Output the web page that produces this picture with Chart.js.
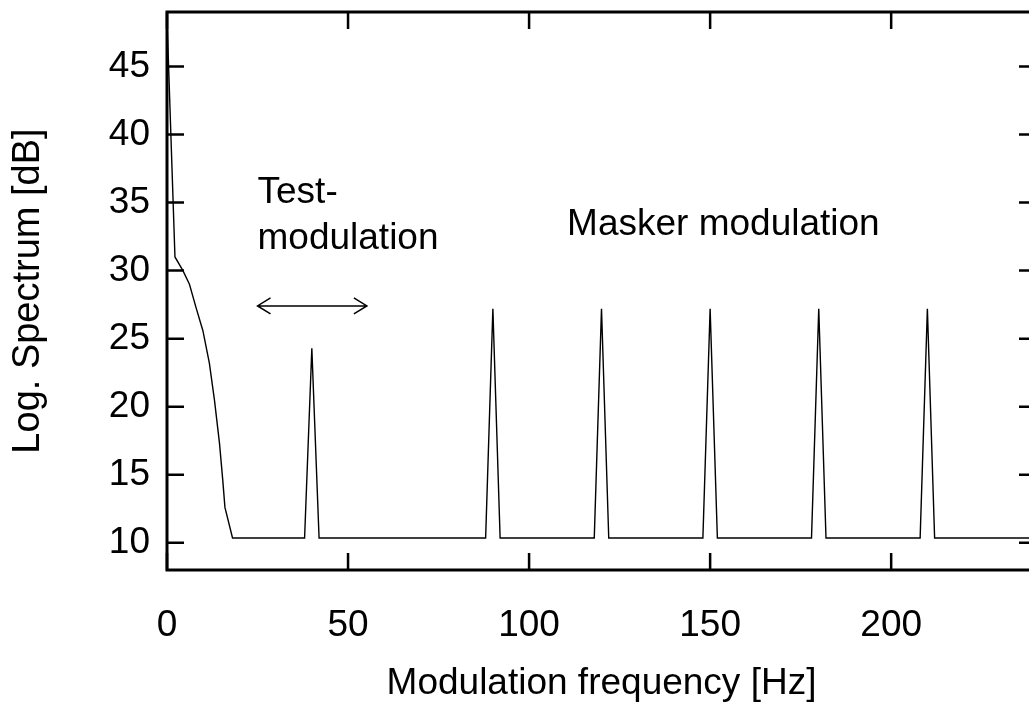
<!DOCTYPE html>
<html>
<head>
<meta charset="utf-8">
<script src="https://cdn.jsdelivr.net/npm/chart.js@4/dist/chart.umd.min.js"></script>
<style>
  html, body { margin: 0; padding: 0; background: #fff; overflow: hidden; }
  #c { display: block; }
</style>
</head>
<body>
<canvas id="c" width="1045" height="704" style="width:1045px;height:704px"></canvas>
<script>
// ─── Data ───────────────────────────────────────────────────────────────────
const freqHz = [0, 2.2, 4.4, 6.2, 8, 9.9, 11.7, 13.1, 14.5, 15.4, 16, 18.1,
                38, 40, 42, 88, 90, 92, 118, 120, 122, 148, 150, 152,
                178, 180, 182, 208, 210, 212, 240];
const levelDb = [48.5, 31.0, 30.0, 29.0, 27.3, 25.6, 23.2, 20.5, 17.3, 14.6, 12.6, 10.35,
                 10.35, 24.3, 10.35, 10.35, 27.2, 10.35, 10.35, 27.2, 10.35, 10.35, 27.2, 10.35,
                 10.35, 27.2, 10.35, 10.35, 27.2, 10.35, 10.35];

const xTicks = [0, 50, 100, 150, 200];
const yTicks = [10, 15, 20, 25, 30, 35, 40, 45];

const xTitle = 'Modulation frequency [Hz]';
const yTitle = 'Log. Spectrum [dB]';

// annotation texts: [text, freq, level(baseline)]
const notes = [
  ['Test-', 25, 35.0],
  ['modulation', 25, 31.55],
  ['Masker modulation', 110.5, 32.6],
];
const arrowSpan = [25, 55.2, 27.4];   // from, to, level

const FONT = 'Liberation Sans, Arial, Helvetica, sans-serif';
const FSIZE = 37;
const TICK = 17;

// ─── Frame, inward ticks, arrow and labels ──────────────────────────────────
const gnuFrame = {
  id: 'gnuFrame',
  afterDraw(chart) {
    const { ctx, chartArea: a, scales: { x, y } } = chart;
    ctx.save();
    ctx.strokeStyle = '#000';
    ctx.lineWidth = 2.5;
    ctx.beginPath();
    xTicks.forEach(v => {
      const px = x.getPixelForValue(v);
      ctx.moveTo(px, a.bottom); ctx.lineTo(px, a.bottom - TICK);
      ctx.moveTo(px, a.top);    ctx.lineTo(px, a.top + TICK);
    });
    yTicks.forEach(v => {
      const py = y.getPixelForValue(v);
      ctx.moveTo(a.left, py);  ctx.lineTo(a.left + TICK, py);
      ctx.moveTo(a.right, py); ctx.lineTo(a.right - TICK, py);
    });
    ctx.stroke();

    ctx.lineWidth = 3;
    ctx.strokeRect(a.left, a.top, a.right - a.left, a.bottom - a.top);

    // double arrow
    const x0 = x.getPixelForValue(arrowSpan[0]);
    const x1 = x.getPixelForValue(arrowSpan[1]);
    const ay = y.getPixelForValue(arrowSpan[2]);
    ctx.lineWidth = 1.5;
    ctx.beginPath();
    ctx.moveTo(x0, ay); ctx.lineTo(x1, ay);
    ctx.moveTo(x0 + 13, ay - 8); ctx.lineTo(x0, ay); ctx.lineTo(x0 + 13, ay + 8);
    ctx.moveTo(x1 - 13, ay - 8); ctx.lineTo(x1, ay); ctx.lineTo(x1 - 13, ay + 8);
    ctx.stroke();

    ctx.fillStyle = '#000';
    ctx.font = FSIZE + 'px ' + FONT;
    ctx.textAlign = 'left';
    ctx.textBaseline = 'alphabetic';
    notes.forEach(([t, f, v]) => ctx.fillText(t, x.getPixelForValue(f), y.getPixelForValue(v)));
    ctx.restore();
  }
};

new Chart(document.getElementById('c'), {
  type: 'line',
  data: {
    datasets: [{
      data: freqHz.map((f, i) => ({ x: f, y: levelDb[i] })),
      borderColor: '#000',
      borderWidth: 1.4,
      pointRadius: 0,
      tension: 0,
      fill: false,
    }]
  },
  options: {
    responsive: false,
    animation: false,
    devicePixelRatio: 1,
    layout: { padding: { top: 12, right: 9, left: 0, bottom: 0 } },
    plugins: { legend: { display: false }, tooltip: { enabled: false } },
    scales: {
      x: {
        type: 'linear', min: 0, max: 240,
        afterBuildTicks: s => { s.ticks = xTicks.map(v => ({ value: v })); },
        afterFit: s => { s.height = 134; s.paddingLeft = 0; s.paddingRight = 0; },
        grid: { display: false, drawTicks: false },
        border: { display: false },
        ticks: { color: '#000', font: { family: FONT, size: FSIZE }, padding: 34, maxRotation: 0 },
        title: { display: true, text: xTitle, color: '#000', font: { family: FONT, size: FSIZE, lineHeight: 1.1 }, padding: { top: 0, bottom: 0 } },
      },
      y: {
        type: 'linear', min: 8, max: 49,
        afterBuildTicks: s => { s.ticks = yTicks.map(v => ({ value: v })); },
        afterFit: s => { s.width = 167; s.paddingTop = 0; s.paddingBottom = 0; },
        grid: { display: false, drawTicks: false },
        border: { display: false },
        ticks: { color: '#000', font: { family: FONT, size: FSIZE }, padding: 17 },
        title: { display: true, text: yTitle, color: '#000', font: { family: FONT, size: 38 }, padding: { top: 6, bottom: 0 } },
      }
    }
  },
  plugins: [gnuFrame]
});
</script>
</body>
</html>
